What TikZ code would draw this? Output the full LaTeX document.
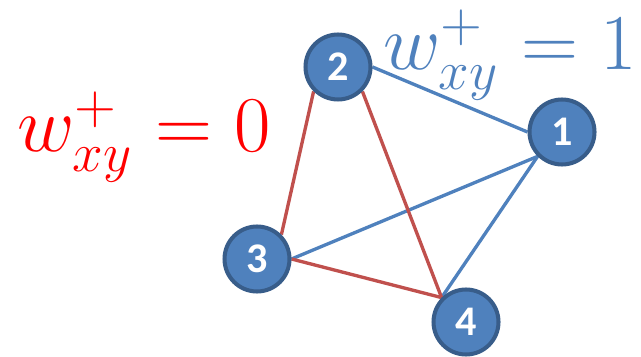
\documentclass[tikz,border=0pt]{standalone}
\usepackage{fontspec}
\newfontfamily\numfont{Carlito}
\usepackage{xcolor}
\usepackage{amsmath}
\usepackage{graphicx}
\usetikzlibrary{positioning, backgrounds}

\definecolor{nodeblue}{HTML}{4F81BD}
\definecolor{nodeedge}{HTML}{385D8A}
\definecolor{edgered}{HTML}{C0504D}

\newcommand{\wlabel}[1]{\scalebox{2.17}{\huge$w^{+}_{xy} = #1$}}

\begin{document}
\begin{tikzpicture}[
    x=0.02cm, y=-0.02cm,
    vtx/.style={circle, draw=nodeedge, line width=2.3pt, fill=nodeblue,
                minimum size=1.3cm, inner sep=0pt, text=white,
                font=\numfont\bfseries\fontsize{24}{24}\selectfont},
    posedge/.style={line width=1.9pt, color=nodeblue},
    negedge/.style={line width=1.9pt, color=edgered},
    wlab/.style={inner sep=0pt, anchor=base west}
]
\useasboundingbox (0,0) rectangle (641,357);

% Vertices
\node[vtx] (n2) at (338, 67) {2};
\node[vtx] (n1) at (562, 132) {1};
\node[vtx] (n3) at (257, 259) {3};
\node[vtx] (n4) at (466, 322) {4};

% Weight labels
\node[wlab, text=red] (wneg) at (17, 152) {\wlabel{0}};
\node[wlab, text=nodeblue] (wpos) at (383, 70) {\wlabel{1}};

% Edges
\begin{scope}[on background layer]
\draw[posedge] (n2.east) -- (n1.west);
\draw[posedge] (n3.east) -- (n1.south west);
\draw[posedge] (n4.north west) -- (n1.south west);
\draw[negedge] (n2.south west) -- (n3.north east);
\draw[negedge] (n2.south east) -- (n4.north west);
\draw[negedge] (n3.east) -- (n4.north west);
\end{scope}
\end{tikzpicture}
\end{document}
